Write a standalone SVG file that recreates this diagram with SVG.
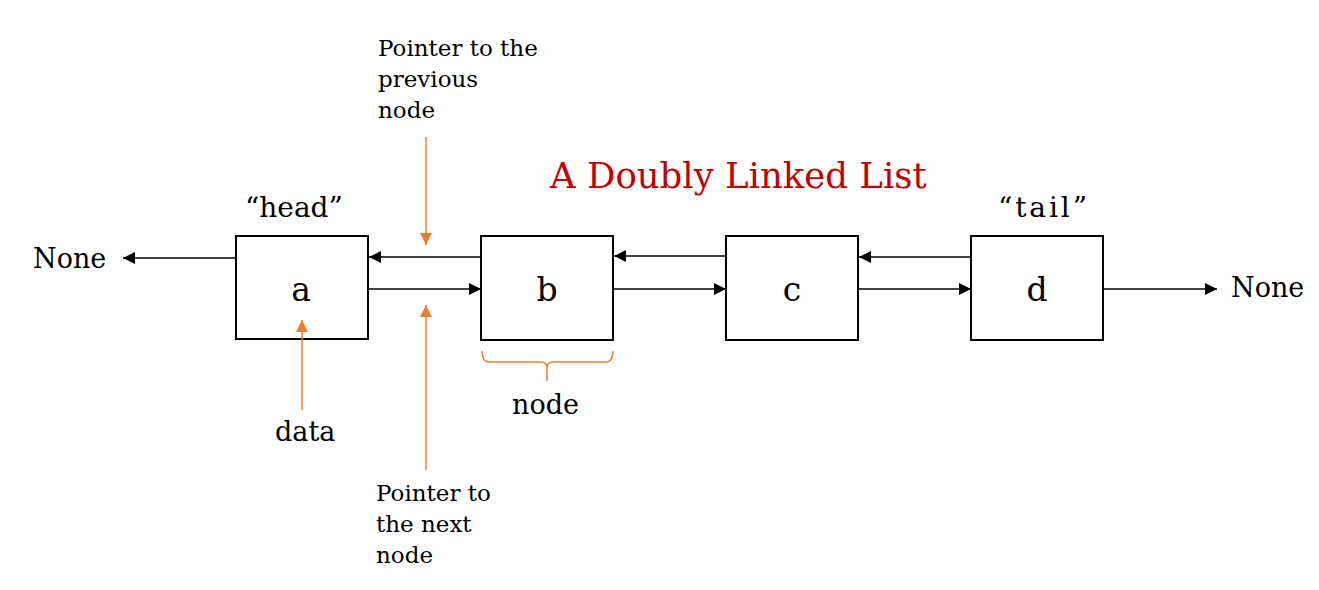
<svg xmlns="http://www.w3.org/2000/svg" width="1319" height="590" viewBox="0 0 1319 590">
<style>
.box{fill:#fff;stroke:#000;stroke-width:2}
.lnk{stroke:#000;stroke-width:1.5;fill:none}
.or{stroke:#ED7D31;stroke-width:1.5;fill:none}
.t{font-family:"DejaVu Serif","Liberation Serif",serif;fill:#000}
.lbl{font-size:23px}
.big{font-size:27px}
.let{font-size:33px;text-anchor:middle}
.title{font-size:35.5px;fill:#C00000}
</style>
<defs>
<marker id="ab" viewBox="0 0 10 10" refX="10" refY="5" markerWidth="12" markerHeight="12" markerUnits="userSpaceOnUse" orient="auto"><path d="M0,0 L10,5 L0,10 z" fill="#000"/></marker>
<marker id="ao" viewBox="0 0 10 10" refX="10" refY="5" markerWidth="12" markerHeight="12" markerUnits="userSpaceOnUse" orient="auto"><path d="M0,0 L10,5 L0,10 z" fill="#ED7D31"/></marker>
</defs>
<text class="t title" x="550" y="188">A Doubly Linked List</text>
<g id="node-a"><rect class="box" x="236" y="236" width="132" height="103"/><text class="t let" x="301" y="301">a</text></g>
<g id="node-b"><rect class="box" x="481" y="236" width="132" height="104"/><text class="t let" x="547" y="301">b</text></g>
<g id="node-c"><rect class="box" x="726" y="236" width="132" height="104"/><text class="t let" x="792" y="301">c</text></g>
<g id="node-d"><rect class="box" x="971" y="236" width="132" height="104"/><text class="t let" x="1037" y="301">d</text></g>
<g id="connectors">
<line class="lnk" x1="236" y1="258" x2="123" y2="258" marker-end="url(#ab)"/>
<line class="lnk" x1="481" y1="257" x2="369" y2="257" marker-end="url(#ab)"/>
<line class="lnk" x1="368" y1="289" x2="481" y2="289" marker-end="url(#ab)"/>
<line class="lnk" x1="726" y1="256" x2="614" y2="256" marker-end="url(#ab)"/>
<line class="lnk" x1="613" y1="289" x2="726" y2="289" marker-end="url(#ab)"/>
<line class="lnk" x1="971" y1="257" x2="859" y2="257" marker-end="url(#ab)"/>
<line class="lnk" x1="858" y1="289" x2="971" y2="289" marker-end="url(#ab)"/>
<line class="lnk" x1="1103" y1="289" x2="1217" y2="289" marker-end="url(#ab)"/>
<line class="or" x1="426" y1="137" x2="426" y2="245" marker-end="url(#ao)"/>
<line class="or" x1="426" y1="470" x2="426" y2="305" marker-end="url(#ao)"/>
<line class="or" x1="302" y1="410" x2="302" y2="320" marker-end="url(#ao)"/>
<path class="or" d="M482,351 Q482,362 489,362 L541,362 Q547,362 547,368 L547,381 M547,368 Q547,362 553,362 L606,362 Q613,362 613,351"/>
</g>
<g id="labels">
<text class="t big" x="33" y="268">None</text>
<text class="t big" x="1231" y="297">None</text>
<text class="t" font-size="28" x="245" y="217">“head”</text>
<text class="t" font-size="28" x="998" y="217" textLength="89">“tail”</text>
<text class="t big" x="275" y="441">data</text>
<text class="t big" x="512" y="414">node</text>
<text class="t lbl" x="378" y="56">Pointer to the</text>
<text class="t lbl" x="378" y="87">previous</text>
<text class="t lbl" x="378" y="118">node</text>
<text class="t lbl" x="376" y="501">Pointer to</text>
<text class="t lbl" x="376" y="532">the next</text>
<text class="t lbl" x="376" y="563">node</text>
</g>
</svg>
